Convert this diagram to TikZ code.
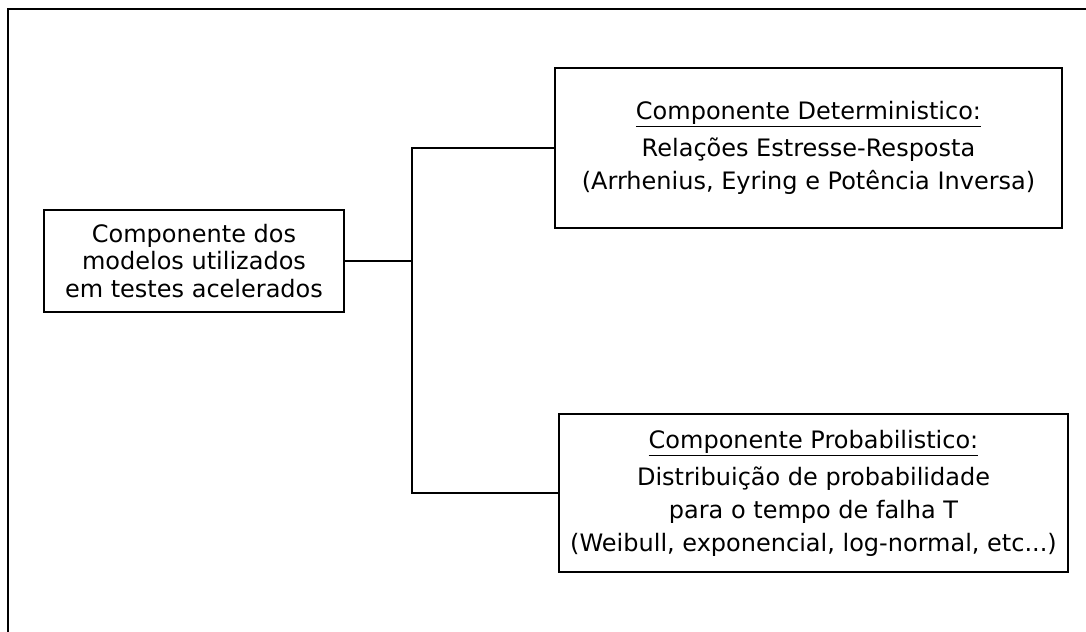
\documentclass[tikz,border=0pt]{standalone}
\usepackage{fontspec}
\setmainfont{DejaVu Sans}
\usepackage{tikz}

\begin{document}
\begin{tikzpicture}[
    x=0.75pt, y=-0.75pt,
    box/.style={draw, line width=1.3pt, align=center, inner sep=0pt, font=\fontsize{18}{24.75}\selectfont},
    link/.style={line width=1.3pt}
  ]
    \useasboundingbox (0,0) rectangle (1086,632);

    % outer frame (only top and left edges show)
    \draw[link] (8,632) -- (8,9) -- (1086,9);

    % root
    \node[box, font=\fontsize{18}{20.5}\selectfont, minimum width=225pt, minimum height=76.5pt] (raiz) at (194,261) {Componente dos\\modelos utilizados\\em testes acelerados};

    % branches
    \node[box, minimum width=380pt, minimum height=120pt] (det) at (808.5,148) {\underline{Componente Deterministico:}\\[3pt]Relações Estresse-Resposta\\(Arrhenius, Eyring e Potência Inversa)};
    \node[box, minimum width=382pt, minimum height=118.5pt] (prob) at (813.5,493) {\underline{Componente Probabilistico:}\\[3pt]Distribuição de probabilidade\\para o tempo de falha T\\(Weibull, exponencial, log-normal, etc...)};

    % connections
    \coordinate (jdet) at (412,148);
    \coordinate (jprob) at (412,493);
    \draw[link] (det.west) -- (jdet) -- (jprob) -- (prob.west);
    \draw[link] (raiz.east) -- (raiz.east -| jdet);
  \end{tikzpicture}
\end{document}
